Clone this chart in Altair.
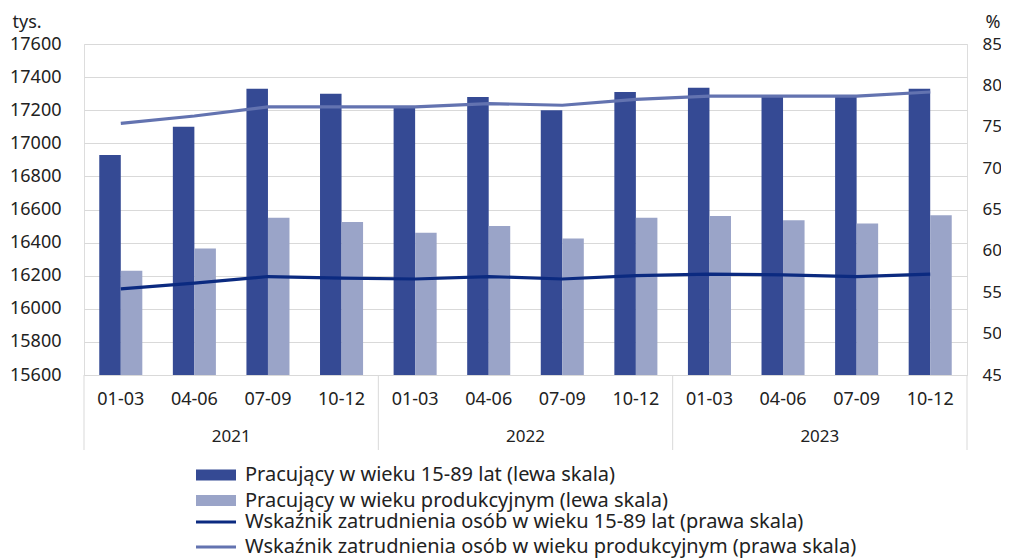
import altair as alt
import pandas as pd

# ---- data ----
years = ["2021"] * 4 + ["2022"] * 4 + ["2023"] * 4
quarters = ["01-03", "04-06", "07-09", "10-12"] * 3
year_labels = ["2021", "2022", "2023"]

pracujacy_15_89 = [16930, 17100, 17330, 17300, 17225, 17280, 17200, 17310, 17335, 17285, 17285, 17330]
pracujacy_prod = [16230, 16365, 16550, 16525, 16460, 16500, 16425, 16550, 16560, 16535, 16515, 16565]
wskaznik_15_89 = [55.4, 56.1, 56.9, 56.7, 56.6, 56.9, 56.6, 57.0, 57.2, 57.1, 56.9, 57.2]
wskaznik_prod = [75.4, 76.3, 77.4, 77.4, 77.4, 77.8, 77.6, 78.3, 78.7, 78.7, 78.7, 79.2]

left_ticks = [15600, 15800, 16000, 16200, 16400, 16600, 16800, 17000, 17200, 17400, 17600]
right_ticks = [45, 50, 55, 60, 65, 70, 75, 80, 85]

bar_series = ["Pracujący w wieku 15-89 lat (lewa skala)",
              "Pracujący w wieku produkcyjnym (lewa skala)"]
line_series = ["Wskaźnik zatrudnienia osób w wieku 15-89 lat (prawa skala)",
               "Wskaźnik zatrudnienia osób w wieku produkcyjnym (prawa skala)"]

periods = [f"{y} {q}" for y, q in zip(years, quarters)]
n = len(periods)

bars_df = pd.DataFrame({
    "okres": periods * 2,
    "seria": [bar_series[0]] * n + [bar_series[1]] * n,
    "wartosc": pracujacy_15_89 + pracujacy_prod,
})
lines_df = pd.DataFrame({
    "okres": periods * 2,
    "seria": [line_series[0]] * n + [line_series[1]] * n,
    "wartosc": wskaznik_15_89 + wskaznik_prod,
})
quarter_df = pd.DataFrame({"pos": [i + 0.5 for i in range(n)], "label": quarters})
group = n // len(year_labels)
year_df = pd.DataFrame({"pos": [k * group + group / 2 for k in range(len(year_labels))],
                        "label": year_labels})
sep_df = pd.DataFrame({"pos": [k * group for k in range(len(year_labels) + 1)]})

W, H = 883, 331
FONT = "Noto Sans"
TXT = "#222222"
GRID = "#D9D9D9"

band = alt.Scale(paddingInner=0.415, paddingOuter=0.2075)
lin_x = alt.Scale(domain=[0, n], nice=False, zero=False)

bars = alt.Chart(bars_df).mark_bar(clip=True).encode(
    x=alt.X("okres:N", sort=periods, scale=band,
            axis=alt.Axis(title=None, labels=False, ticks=False, grid=False,
                          domain=True, domainColor=GRID, domainWidth=1)),
    xOffset=alt.XOffset("seria:N", sort=bar_series),
    y=alt.Y("wartosc:Q",
            scale=alt.Scale(domain=[left_ticks[0], left_ticks[-1]], nice=False, zero=False),
            axis=alt.Axis(values=left_ticks, format="d", title="tys.", titleAngle=0,
                          titleAlign="left", titleBaseline="alphabetic", titleX=-72, titleY=-17,
                          titleFont=FONT, titleFontSize=18, titleFontWeight="normal",
                          titleColor=TXT, labelFont=FONT, labelFontSize=18, labelColor=TXT,
                          labelPadding=23, ticks=False, domain=False,
                          grid=True, gridColor=GRID, gridWidth=1.2)),
    color=alt.Color("seria:N", sort=bar_series,
                    scale=alt.Scale(domain=bar_series, range=["#354A94", "#9AA4C8"]),
                    legend=alt.Legend(title=None, orient="none", legendX=122, legendY=421,
                                      direction="vertical",
                                      symbolType="M-4,-1.1L4,-1.1L4,1.1L-4,1.1Z",
                                      symbolSize=100, symbolStrokeWidth=0,
                                      labelFont=FONT, labelFontSize=20, labelColor=TXT,
                                      labelOffset=19, rowPadding=5.5, labelLimit=900)),
)

lines = alt.Chart(lines_df).mark_line(strokeWidth=3.2).encode(
    x=alt.X("okres:N", sort=periods, scale=band, axis=None),
    y=alt.Y("wartosc:Q",
            scale=alt.Scale(domain=[right_ticks[0], right_ticks[-1]], nice=False, zero=False),
            axis=alt.Axis(orient="right", values=right_ticks, title="%", titleAngle=0,
                          titleAlign="right", titleBaseline="alphabetic", titleX=33, titleY=-17,
                          titleFont=FONT, titleFontSize=18, titleFontWeight="normal",
                          titleColor=TXT, labelFont=FONT, labelFontSize=17, labelColor=TXT,
                          labelPadding=15, ticks=False, domain=False, grid=False)),
    stroke=alt.Stroke("seria:N", sort=line_series,
                      scale=alt.Scale(domain=line_series, range=["#0B2A80", "#6373B0"]),
                      legend=alt.Legend(title=None, orient="none", legendX=122, legendY=468,
                                        direction="vertical", symbolType="M-4,0L4,0",
                                        symbolSize=100, symbolStrokeWidth=3.2,
                                        labelFont=FONT, labelFontSize=20, labelColor=TXT,
                                        labelOffset=19, rowPadding=5, labelLimit=900)),
)

seps = alt.Chart(sep_df).mark_rule(color=GRID, strokeWidth=1).encode(
    x=alt.X("pos:Q", scale=lin_x, axis=None),
    y=alt.value(H),
    y2=alt.value(H + 75),
)

qtext = alt.Chart(quarter_df).mark_text(font=FONT, fontSize=18, color=TXT, baseline="middle").encode(
    x=alt.X("pos:Q", scale=lin_x, axis=None),
    y=alt.value(H + 25),
    text="label:N",
)

ytext = alt.Chart(year_df).mark_text(font=FONT, fontSize=17, color=TXT, baseline="middle").encode(
    x=alt.X("pos:Q", scale=lin_x, axis=None),
    y=alt.value(H + 62),
    text="label:N",
)

chart = alt.layer(bars, lines, seps, qtext, ytext).resolve_scale(
    x="independent", y="independent"
).properties(
    width=W, height=H,
    autosize=alt.AutoSizeParams(type="none"),
    padding={"left": 76, "top": 36, "right": 34, "bottom": 183},
).configure_view(stroke=None).configure(font=FONT)

chart.save("out.html", embed_options={"renderer": "svg", "actions": False})
